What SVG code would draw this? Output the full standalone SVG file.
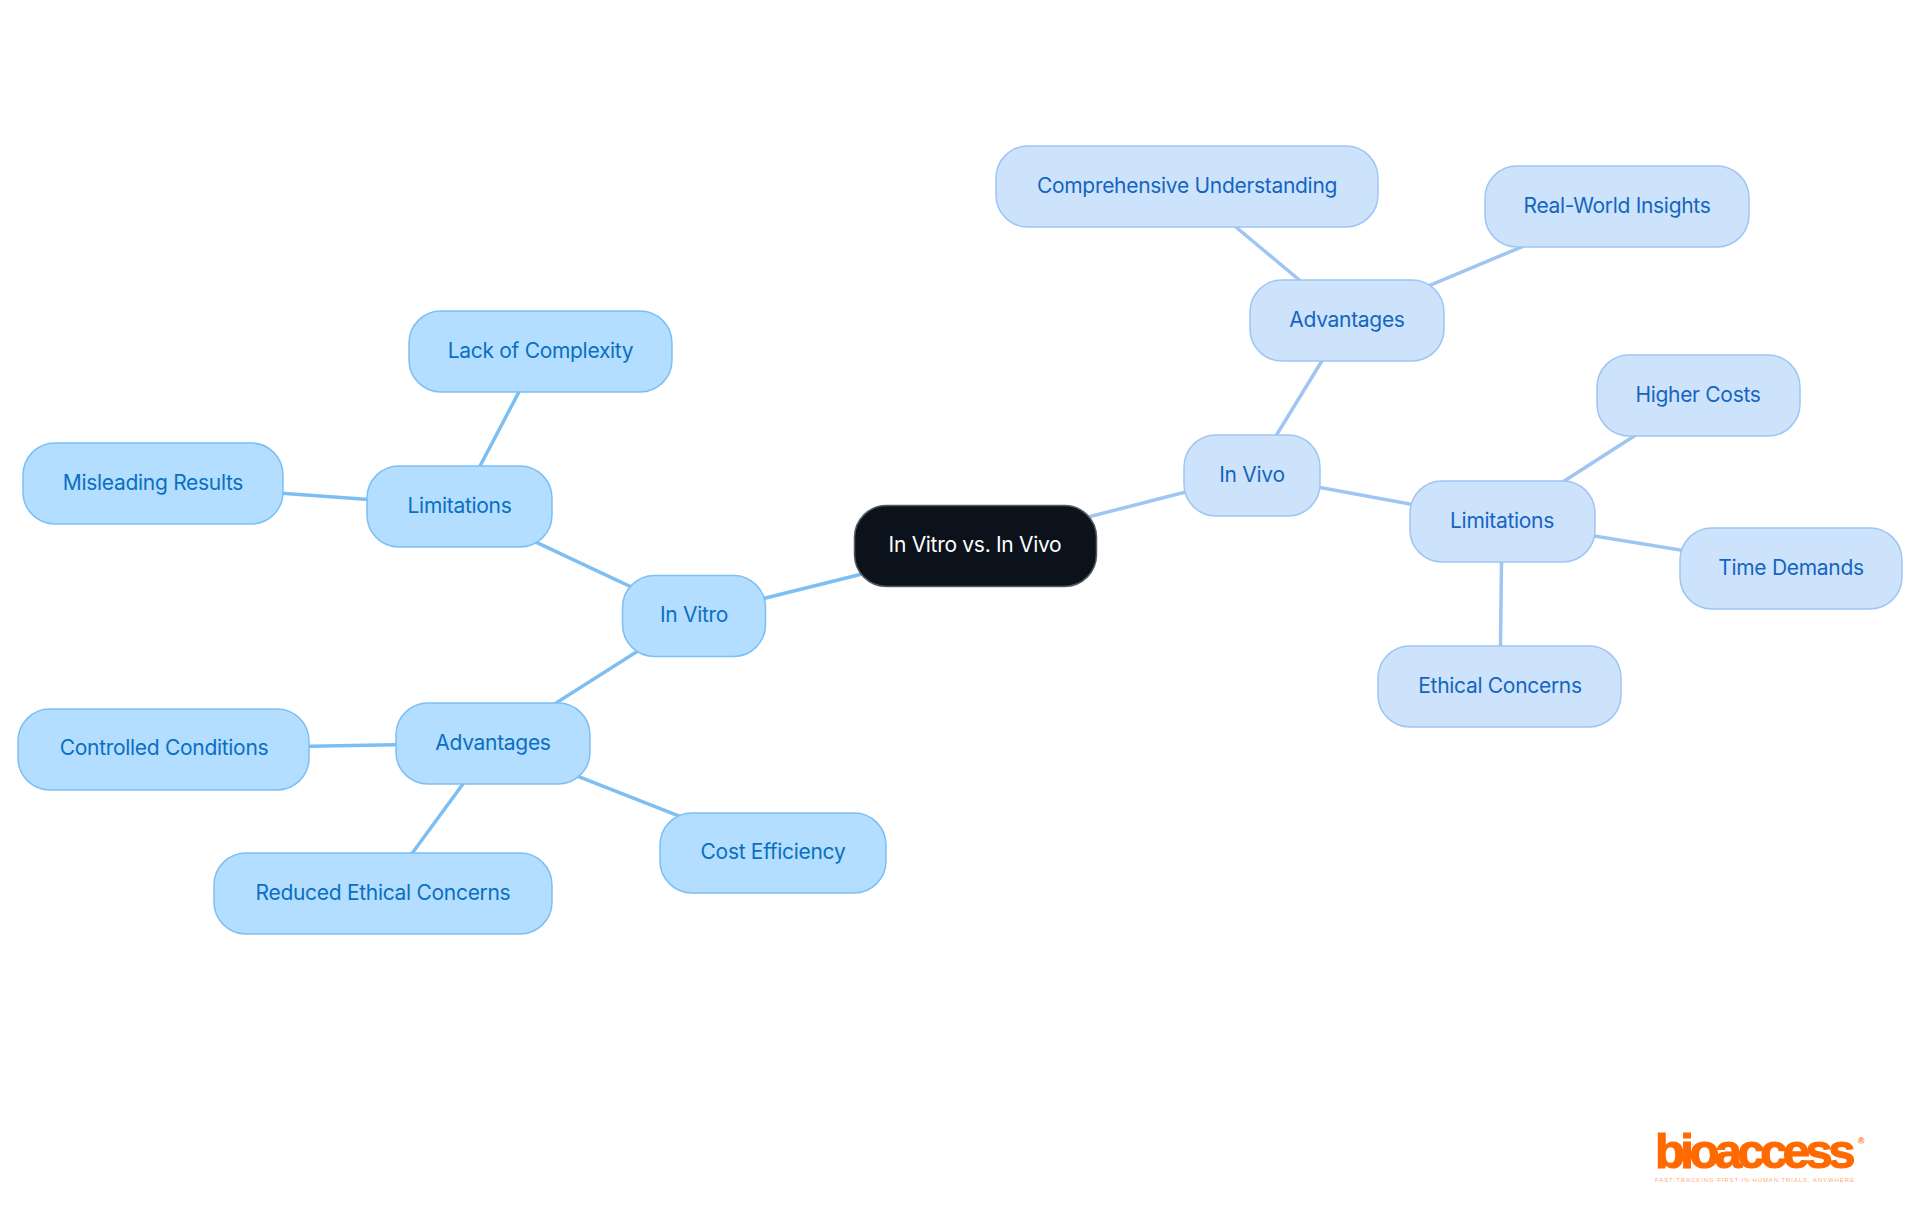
<svg xmlns="http://www.w3.org/2000/svg" width="1920" height="1215" viewBox="0 0 1920 1215">
<style>
.n rect{stroke-width:1.5}
text{font-family:"Inter","Noto Sans",sans-serif;font-size:21px;text-anchor:middle;dominant-baseline:central;letter-spacing:-.3px}
.a rect{fill:#b3deff;stroke:#7dbff2}.a text{fill:#0a6fc2}
.b rect{fill:#cde3fc;stroke:#9fc5f2}.b text{fill:#1565c0}
.a-l{stroke:#7dbff2;stroke-width:3.5;fill:none}.b-l{stroke:#9fc5f2;stroke-width:3.5;fill:none}
</style>
<rect width="1920" height="1215" fill="#fff"/>
<g id="connectors">
<path class="a-l" d="M975 546L693 616M693 616L459 506M459 506L540 352M459 506L153 484M693 616L493 743M493 743L164 749M493 743L383 893M493 743L773 853"/>
<path class="b-l" d="M975 546L1252 475M1252 475L1347 320M1347 320L1187 186M1347 320L1617 207M1252 475L1502 521M1502 521L1698 395M1502 521L1791 568M1502 521L1500 686"/>
</g>
<g id="root" class="n"><rect x="854.500" y="505.500" width="242" height="81" rx="32" fill="#0b121b" stroke="#555b62"/><text x="975" y="544" fill="#fff">In Vitro vs. In Vivo</text></g>
<g id="in-vitro" class="n a"><rect x="622.500" y="575.500" width="143" height="81" rx="32"/><text x="694" y="614">In Vitro</text></g>
<g id="vitro-limitations" class="n a"><rect x="367" y="466" width="185" height="81" rx="32"/><text x="459.500" y="505">Limitations</text></g>
<g id="lack-of-complexity" class="n a"><rect x="409" y="311" width="263" height="81" rx="32"/><text x="540.500" y="350">Lack of Complexity</text></g>
<g id="misleading-results" class="n a"><rect x="23" y="443" width="260" height="81" rx="32"/><text x="153" y="482">Misleading Results</text></g>
<g id="vitro-advantages" class="n a"><rect x="396" y="703" width="194" height="81" rx="32"/><text x="493" y="742">Advantages</text></g>
<g id="controlled-conditions" class="n a"><rect x="18" y="709" width="291" height="81" rx="32"/><text x="164" y="747">Controlled Conditions</text></g>
<g id="reduced-ethical-concerns" class="n a"><rect x="214" y="853" width="338" height="81" rx="32"/><text x="383" y="892">Reduced Ethical Concerns</text></g>
<g id="cost-efficiency" class="n a"><rect x="660" y="813" width="226" height="80" rx="32"/><text x="773" y="851">Cost Efficiency</text></g>
<g id="in-vivo" class="n b"><rect x="1184" y="435" width="136" height="81" rx="32"/><text x="1252" y="474">In Vivo</text></g>
<g id="vivo-advantages" class="n b"><rect x="1250" y="280" width="194" height="81" rx="32"/><text x="1347" y="319">Advantages</text></g>
<g id="comprehensive-understanding" class="n b"><rect x="996" y="146" width="382" height="81" rx="32"/><text x="1187" y="185">Comprehensive Understanding</text></g>
<g id="real-world-insights" class="n b"><rect x="1485" y="166" width="264" height="81" rx="32"/><text x="1617" y="205">Real-World Insights</text></g>
<g id="vivo-limitations" class="n b"><rect x="1410" y="481" width="185" height="81" rx="32"/><text x="1502" y="520">Limitations</text></g>
<g id="higher-costs" class="n b"><rect x="1597" y="355" width="203" height="81" rx="32"/><text x="1698" y="394">Higher Costs</text></g>
<g id="time-demands" class="n b"><rect x="1680" y="528" width="222" height="81" rx="32"/><text x="1791" y="567">Time Demands</text></g>
<g id="ethical-concerns" class="n b"><rect x="1378" y="646" width="243" height="81" rx="32"/><text x="1500" y="685">Ethical Concerns</text></g>
<g id="logo" fill="#ff6a00">
<text x="1655" y="1168" style="font-family:'Liberation Sans',sans-serif;font-weight:700;font-size:49px;text-anchor:start;dominant-baseline:auto;letter-spacing:-.5px;stroke:#ff6a00;stroke-width:1.2" fill="#ff6a00" textLength="200">bioaccess</text>
<text x="1861" y="1141" style="font-family:'Liberation Sans',sans-serif;font-weight:700;font-size:9px;letter-spacing:0" fill="#ff6a00">®</text>
<text x="1755" y="1180" style="font-family:'Liberation Sans',sans-serif;font-size:6px;letter-spacing:1px;fill-opacity:.6" fill="#ff6a00" textLength="200">FAST-TRACKING FIRST-IN-HUMAN TRIALS, ANYWHERE</text>
</g>
</svg>
